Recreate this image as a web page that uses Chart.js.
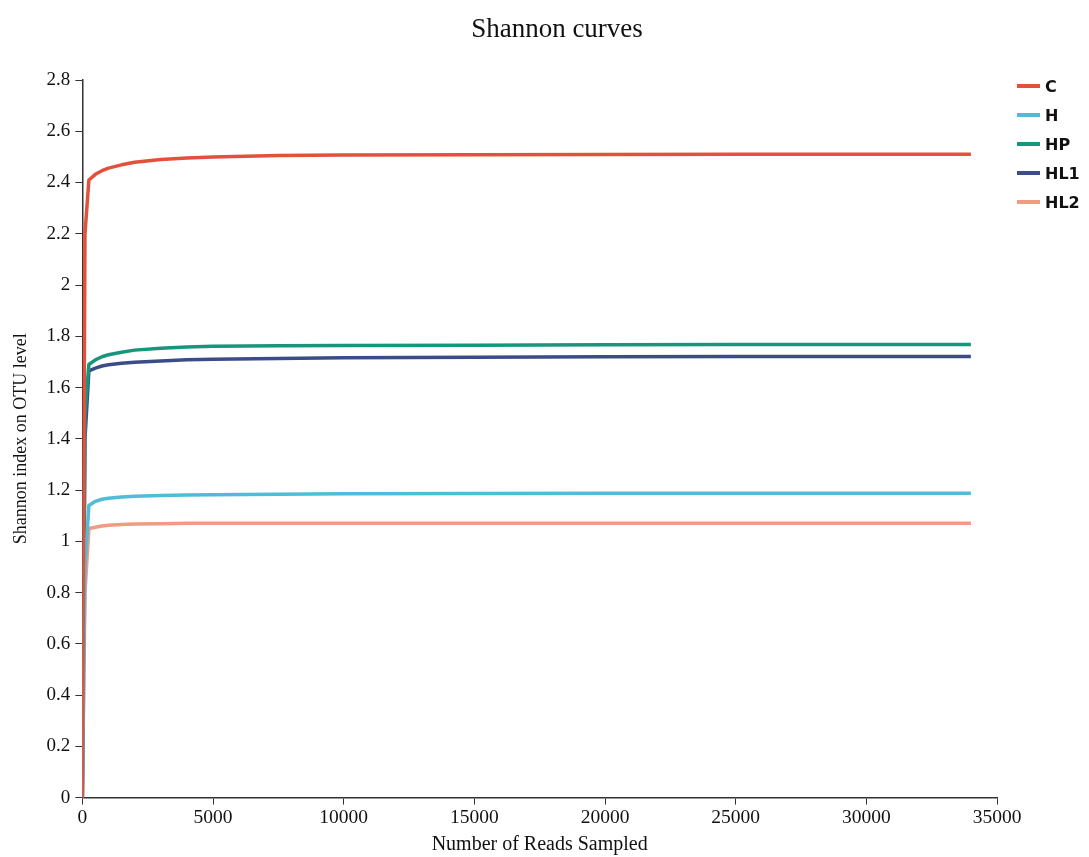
<!DOCTYPE html>
<html>
<head>
<meta charset="utf-8">
<script src="https://cdn.jsdelivr.net/npm/chart.js@4"></script>
<style>
  html, body { margin: 0; padding: 0; background: #fff; }
  #wrap { position: relative; width: 1089px; height: 857px; }
  #titre { position: absolute; left: 407px; width: 300px; top: 13px; text-align: center; font: 27px 'Liberation Serif', 'Times New Roman', serif; color: #111; }
  #legende { position: absolute; left: 1017px; top: 76px; font: bold 16px 'DejaVu Sans', Verdana, sans-serif; color: #111; }
  #legende div { display: flex; align-items: center; height: 20px; margin-bottom: 9px; }
  #legende span.trait { display: inline-block; width: 23px; height: 4px; margin-right: 5px; }
</style>
</head>
<body>
<div id="wrap">
  <canvas id="shannonChart" width="1089" height="857"></canvas>
  <div id="titre">Shannon curves</div>
  <div id="legende"></div>
</div>
<script>
// donnees
const reads = [0, 100, 250, 500, 750, 1000, 1500, 2000, 3000, 4000, 5000, 7500, 10000, 15000, 20000, 25000, 30000, 34000];
const serieC   = [0, 2.2, 2.41, 2.432, 2.446, 2.456, 2.469, 2.479, 2.49, 2.496, 2.5, 2.505, 2.507, 2.508, 2.509, 2.51, 2.51, 2.51];
const serieH   = [0, 0.9, 1.14, 1.156, 1.164, 1.168, 1.173, 1.176, 1.179, 1.181, 1.182, 1.184, 1.186, 1.187, 1.188, 1.188, 1.188, 1.188];
const serieHP  = [0, 1.5, 1.69, 1.708, 1.72, 1.728, 1.738, 1.746, 1.753, 1.758, 1.761, 1.763, 1.764, 1.765, 1.767, 1.768, 1.768, 1.768];
const serieHL1 = [0, 1.4, 1.665, 1.676, 1.684, 1.689, 1.695, 1.699, 1.704, 1.708, 1.71, 1.713, 1.716, 1.718, 1.72, 1.721, 1.721, 1.721];
const serieHL2 = [0, 0.8, 1.05, 1.055, 1.06, 1.063, 1.066, 1.068, 1.069, 1.07, 1.07, 1.07, 1.07, 1.07, 1.07, 1.07, 1.07, 1.07];

const labels = ['C', 'H', 'HP', 'HL1', 'HL2'];
const colors = ['#e2513c', '#4fbcd8', '#16977c', '#3b4d88', '#f29a82'];
const series = [serieC, serieH, serieHP, serieHL1, serieHL2];

const serif = "'Liberation Serif', 'Times New Roman', serif";
const axisColor = '#333';

const datasets = series.map((vals, i) => ({
    label: labels[i],
    data: vals.map((v, j) => ({ x: reads[j], y: v })),
    borderColor: colors[i],
    backgroundColor: colors[i],
    borderWidth: 3.5,
    borderJoinStyle: 'round',
    pointRadius: 0,
    tension: 0,
    fill: false
}));

// legende HTML (position fixe a droite)
const legendeEl = document.getElementById('legende');
labels.forEach((lab, i) => {
    const row = document.createElement('div');
    row.innerHTML = `<span class="trait" style="background:${colors[i]}"></span>${lab}`;
    legendeEl.appendChild(row);
});

new Chart(document.getElementById('shannonChart').getContext('2d'), {
    type: 'line',
    data: { datasets: datasets },
    options: {
        responsive: false,
        animation: false,
        layout: { padding: { top: 80, right: 92, left: 10, bottom: 0 } },
        scales: {
            x: {
                type: 'linear',
                min: 0, max: 35000,
                ticks: { stepSize: 5000, color: '#111', font: { family: serif, size: 19.5 }, padding: 2, maxRotation: 0,
                         callback: v => String(v) },
                grid: { drawOnChartArea: false, drawTicks: true, tickLength: 7, color: axisColor },
                border: { color: axisColor, width: 1.5 },
                title: { display: true, text: 'Number of Reads Sampled', color: '#111', font: { family: serif, size: 20 }, padding: { top: 1, bottom: 0 } }
            },
            y: {
                min: 0, max: 2.8,
                ticks: { stepSize: 0.2, color: '#111', font: { family: serif, size: 19 }, padding: 5,
                         callback: v => String(Math.round(v * 10) / 10) },
                grid: { drawOnChartArea: false, drawTicks: true, tickLength: 7, color: axisColor },
                border: { color: axisColor, width: 1.5 },
                title: { display: true, text: 'Shannon index on OTU level', color: '#111', font: { family: serif, size: 18 }, padding: { top: 0, bottom: 10 } }
            }
        },
        plugins: {
            title: { display: false },
            legend: { display: false },
            tooltip: { enabled: false }
        }
    }
});
</script>
</body>
</html>
